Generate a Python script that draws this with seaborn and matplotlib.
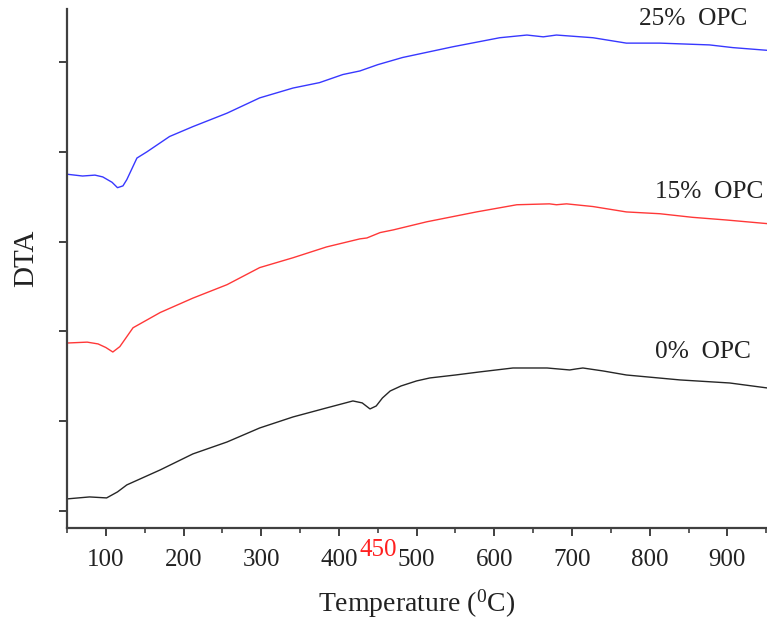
import matplotlib
matplotlib.use("Agg")
import matplotlib.pyplot as plt
import seaborn as sns
import pandas as pd
from matplotlib.ticker import MultipleLocator

# ---- data ----
temp_0 = [50, 79, 101, 115, 127, 170, 212, 256, 298, 341, 384, 418, 430, 440, 448, 456, 466, 480, 500,
          517, 550, 581, 624, 668, 697, 705, 714, 740, 770, 839, 903, 951]
dta_0 = [0.134, 0.156, 0.145, 0.212, 0.290, 0.457, 0.635, 0.768, 0.924, 1.047, 1.147, 1.225, 1.203, 1.136,
         1.169, 1.258, 1.336, 1.392, 1.448, 1.481, 1.514, 1.548, 1.592, 1.592, 1.570, 1.581, 1.592, 1.559,
         1.514, 1.459, 1.425, 1.370]

temp_15 = [50, 76, 90, 100, 109, 118, 135, 170, 212, 256, 298, 341, 384, 427, 436, 453, 470, 513, 577,
           629, 671, 680, 693, 727, 770, 813, 855, 899, 951]
dta_15 = [1.87, 1.88, 1.86, 1.82, 1.77, 1.83, 2.04, 2.21, 2.37, 2.52, 2.71, 2.82, 2.94, 3.03, 3.04, 3.10,
          3.13, 3.22, 3.33, 3.41, 3.42, 3.41, 3.42, 3.39, 3.33, 3.31, 3.27, 3.24, 3.20]

temp_25 = [50, 70, 86, 96, 108, 115, 122, 127, 140, 153, 182, 212, 256, 298, 341, 375, 405, 427, 450,
           482, 547, 607, 642, 663, 680, 727, 770, 813, 877, 907, 951]
dta_25 = [3.75, 3.73, 3.74, 3.72, 3.66, 3.60, 3.62, 3.69, 3.93, 4.00, 4.17, 4.28, 4.43, 4.60, 4.71, 4.77,
          4.86, 4.90, 4.97, 5.05, 5.17, 5.27, 5.30, 5.28, 5.30, 5.27, 5.21, 5.21, 5.19, 5.16, 5.13]

series_labels = ["0%  OPC", "15%  OPC", "25%  OPC"]
x_ticks = [100, 200, 300, 400, 500, 600, 700, 800, 900]
marked_temp = 450

# ---- style ----
sns.set_theme(style="ticks")
plt.rcParams["font.family"] = ["Liberation Serif", "DejaVu Serif"]
plt.rcParams["mathtext.default"] = "regular"

fig = plt.figure(figsize=(7.67, 6.26), dpi=100)
ax = fig.add_axes([67 / 767, 1 - 528 / 626, 700 / 767, 519 / 626])

colors = ["#262626", "#ff3838", "#3838ff"]
for t, d, c in zip([temp_0, temp_15, temp_25], [dta_0, dta_15, dta_25], colors):
    df = pd.DataFrame({"T": t, "DTA": d})
    sns.lineplot(data=df, x="T", y="DTA", ax=ax, color=c, linewidth=1.0, sort=True)

ax.set_xlim(50, 951)
ax.set_ylim(-0.19, 5.59)

ax.set_xticks(x_ticks)
ax.xaxis.set_minor_locator(MultipleLocator(50))
ax.set_yticks([0, 1, 2, 3, 4, 5])
ax.set_yticklabels([])

for s in ["top", "right"]:
    ax.spines[s].set_visible(False)
for s in ["left", "bottom"]:
    ax.spines[s].set_linewidth(1.6)
    ax.spines[s].set_color("#404040")

ax.tick_params(axis="x", which="major", direction="out", length=6, width=1.4, color="#404040",
               labelsize=18, pad=9, labelcolor="#222222")
ax.tick_params(axis="x", which="minor", direction="out", length=3.5, width=1.2, color="#404040")
ax.tick_params(axis="y", which="major", direction="out", length=6, width=1.4, color="#404040")

ax.set_xlabel("Temperature ($^0$C)", fontsize=20, color="#222222", labelpad=12)
ax.set_ylabel("DTA", fontsize=21, color="#222222")
ax.yaxis.set_label_coords(-0.040, 0.52)

# red marker temperature label
ax.text(marked_temp, -0.042, str(marked_temp), transform=ax.get_xaxis_transform(),
        color="#ff2020", fontsize=18, ha="center", va="center")

# curve labels
label_pos = [(0.84, 0.339), (0.84, 0.647), (0.817, 0.981)]
for lab, (fx, fy) in zip(series_labels, label_pos):
    ax.text(fx, fy, lab, transform=ax.transAxes, fontsize=18.3, color="#222222",
            ha="left", va="center")

fig.savefig("out.png", dpi=100)
